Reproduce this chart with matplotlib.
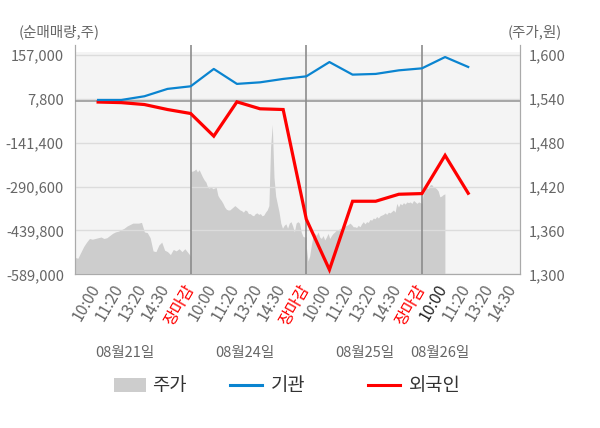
import numpy as np
import matplotlib
matplotlib.use('Agg')
import matplotlib.pyplot as plt
from matplotlib.patches import Rectangle
from matplotlib.lines import Line2D
from matplotlib.transforms import blended_transform_factory

plt.rcParams['font.family'] = ['Noto Sans CJK KR', 'DejaVu Sans']

# x tick labels (4 trading days, last one still open)
tick_labels = ['10:00', '11:20', '13:20', '14:30', '장마감',
               '10:00', '11:20', '13:20', '14:30', '장마감',
               '10:00', '11:20', '13:20', '14:30', '장마감',
               '10:00', '11:20', '13:20', '14:30']
dates = ['08월21일', '08월24일', '08월25일', '08월26일']

# net buying (shares), one point per slot
inst = [4000, 4000, 16600, 41700, 50500, 109500, 58700, 64000, 75600,
        84400, 133000, 90200, 92600, 104800, 111600, 150000, 116300]
foreign = [-3000, -5000, -11500, -28500, -42000, -119000, -2400, -26000, -28500,
           -401500, -573400, -340500, -340500, -316700, -314400, -184500, -313300]

# share price (won), intraday samples per day
price_d1 = [1323, 1322, 1330, 1338, 1344, 1349, 1348, 1349, 1350, 1351,
            1349, 1350, 1353, 1356, 1358, 1359, 1361, 1363, 1366, 1368,
            1370, 1370, 1370, 1371, 1358, 1357, 1350, 1332, 1331, 1340,
            1344, 1333, 1331, 1327, 1334, 1332, 1335, 1331, 1335, 1330, 1325]
price_d2 = [1441, 1441, 1442, 1444, 1440, 1443, 1438, 1433, 1429, 1426,
            1419, 1418, 1420, 1417, 1418, 1419, 1408, 1404, 1401, 1397,
            1392, 1389, 1388, 1388, 1390, 1392, 1394, 1392, 1390, 1388,
            1387, 1385, 1388, 1387, 1383, 1383, 1381, 1380, 1383, 1384,
            1382, 1383, 1380, 1381, 1385, 1388, 1394, 1474, 1505, 1433,
            1407, 1396, 1385, 1370, 1363, 1367, 1369, 1363, 1370, 1372,
            1366, 1358, 1370, 1372, 1370, 1358, 1352, 1351, 1351]
price_d3 = [1338, 1318, 1325, 1340, 1352, 1356, 1353, 1358, 1351, 1349,
            1353, 1347, 1351, 1356, 1349, 1353, 1356, 1358, 1361, 1360,
            1363, 1361, 1365, 1366, 1367, 1368, 1370, 1368, 1365, 1365,
            1364, 1367, 1365, 1369, 1372, 1369, 1372, 1371, 1375, 1374,
            1377, 1376, 1379, 1377, 1380, 1381, 1382, 1384, 1382, 1385,
            1384, 1386, 1388, 1385, 1397, 1392, 1397, 1395, 1398, 1396,
            1399, 1398, 1399, 1397, 1401, 1399, 1397, 1399, 1398, 1397]
price_d4 = [1410, 1414, 1419, 1417, 1422, 1423, 1420, 1419, 1417, 1414,
            1406, 1407, 1409, 1410]

DAY = 5  # slots per day
fig = plt.figure(figsize=(6, 4.28), dpi=100)
ax = fig.add_axes([0.125, 0.3591, 0.7417, 0.5357])
ax2 = ax.twinx()
ax.set_zorder(2)
ax2.set_zorder(1)
ax.patch.set_visible(False)

# price area
step = DAY / (len(price_d3) - 1)
px = np.concatenate([np.linspace(0, DAY, len(price_d1)),
                     np.linspace(DAY, 2 * DAY, len(price_d2)),
                     np.linspace(2 * DAY, 3 * DAY, len(price_d3)),
                     3 * DAY + 0.05 + np.arange(len(price_d4)) * step])
py = np.concatenate([price_d1, price_d2, price_d3, price_d4])
ax2.axhspan(1300, 1604.5, color='#f4f4f4', zorder=0, lw=0)
ax2.fill_between(px, 1300, py, color='#cdcdcd', lw=0, zorder=1)
ax2.set_ylim(1300, 1613.6)
ax2.set_yticks(np.arange(1300, 1601, 60))
ax2.set_yticklabels([f'{v:,}' for v in range(1300, 1601, 60)])

# net buying lines
xs = np.arange(1, len(inst) + 1)
ax.plot(xs, foreign, color='#ff0000', lw=2.3, zorder=4, solid_joinstyle='miter')
ax.plot(xs, inst, color='#0a84d0', lw=1.6, zorder=5)
ax.axhline(0, color='#999999', lw=1.2, zorder=3)
for d in range(1, 4):
    ax.axvline(d * DAY, color='#8c8c8c', lw=1.2, zorder=3)

yt = [157000, 7800, -141400, -290600, -439800, -589000]
ax.set_ylim(-589000, 190900)
ax.set_yticks(yt)
ax.set_yticklabels([f'{v:,}' for v in yt])
ax.yaxis.grid(True, color='#dcdcdc', lw=1)
ax.set_axisbelow(True)
ax.set_xlim(0, 19.24)
ax.set_xticks(np.arange(len(tick_labels)) + 0.5)
ax.set_xticklabels(tick_labels, rotation=60, ha='center', va='top')

for a in (ax, ax2):
    a.tick_params(length=0, labelsize=10.5, colors='#666666')
    for s in a.spines.values():
        s.set_color('#aaaaaa')
    a.spines['top'].set_visible(False)
ax.tick_params(axis='x', labelsize=11.5, pad=5)
ax.tick_params(axis='y', pad=8)
ax2.tick_params(axis='y', pad=6)
for i, t in enumerate(ax.get_xticklabels()):
    if tick_labels[i] == '장마감':
        t.set_color('#ff0000')
    elif i == 15:
        t.set_color('#222222')

# date labels under ticks
tr = blended_transform_factory(ax.transData, fig.transFigure)
for x, d in zip([2.16, 7.35, 12.54, 15.78], dates):
    ax.text(x, 1 - 353 / 428, d, transform=tr, ha='center', va='center',
            fontsize=10.5, color='#666666')

fig.text(100 / 600, 1 - 32 / 428, '(순매매량,주)', ha='right', va='center',
         fontsize=10.5, color='#666666')
fig.text(562 / 600, 1 - 32 / 428, '(주가,원)', ha='right', va='center',
         fontsize=10.5, color='#666666')

# legend
ly = 1 - 385 / 428
fig.add_artist(Rectangle((114 / 600, 1 - 392 / 428), 32 / 600, 14 / 428,
                         transform=fig.transFigure, color='#cdcdcd', lw=0))
fig.add_artist(Line2D([230 / 600, 262 / 600], [ly, ly], transform=fig.transFigure,
                      color='#0a84d0', lw=2.2))
fig.add_artist(Line2D([368 / 600, 400 / 600], [ly, ly], transform=fig.transFigure,
                      color='#ff0000', lw=2.2))
for x, s in [(152, '주가'), (271, '기관'), (409, '외국인')]:
    fig.text(x / 600, ly, s, ha='left', va='center', fontsize=13.5, color='#333333')

fig.savefig('out.png', dpi=100)
